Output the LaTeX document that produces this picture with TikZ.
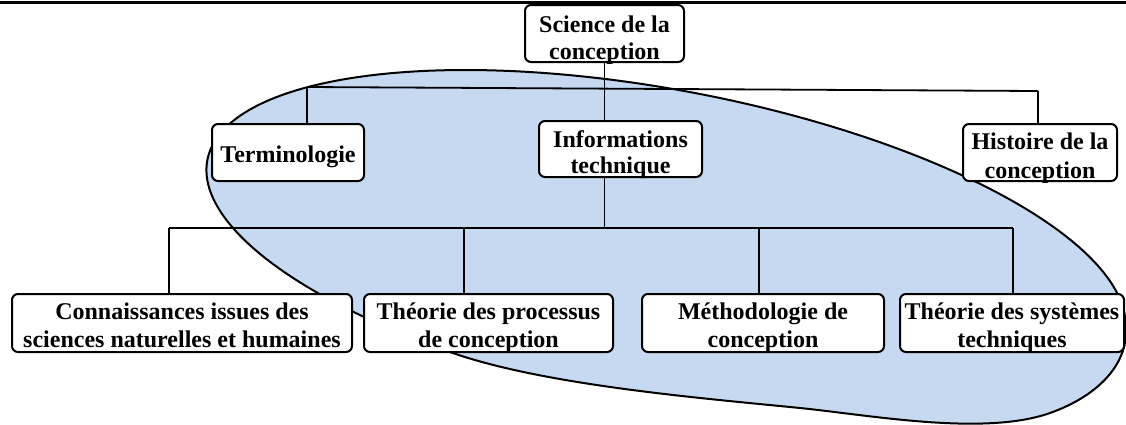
\documentclass[tikz,border=0pt]{standalone}
\usepackage{fontspec}
\setmainfont{Liberation Serif}
\definecolor{ellfill}{HTML}{C6D9F1}
\tikzset{
  boxst/.style={draw, line width=2pt, fill=white, rounded corners=6pt, inner sep=0pt},
  txt/.style={font=\bfseries\fontsize{24}{27}\selectfont, inner sep=0pt, anchor=base},
  link/.style={line width=1.8pt},
  ellst/.style={draw, fill=ellfill, line width=2pt},
}
\newcommand\mkbox[5]{% name, x1, y1, x2, y2
  \node[boxst, minimum width={#4-#2}, minimum height={#5-#3}] (#1) at ({(#2+#4)/2},{(#3+#5)/2}) {};}
\newcommand\cliptobox[1]{\clip[rounded corners=6pt] (#1.south west) rectangle (#1.north east);}
\begin{document}
\begin{tikzpicture}[x=1pt,y=-1pt]
\useasboundingbox (0,0) rectangle (1126,424);
% oval
\begin{scope}
  \clip (0,0) rectangle (1126,424);
  \draw[ellst] plot[domain=143.8:380, samples=200, variable=\t]
      ({666+413.5*cos(\t)+200.6*sin(\t)}, {247.5+177.5*sin(\t)})
    .. controls (1138,361) and (1097.1,396.3) .. (1050,413)
    .. controls (984,436.4) and (869.6,415) .. (800,408)
    .. controls (700.6,398) and (544.3,385.3) .. (450.8,352.3) -- cycle;
\end{scope}
% top rule
\draw[line width=3pt] (0,2.2) -- (1126,2.2);
% boxes
\mkbox{sci}{525}{5}{684}{62}
\mkbox{term}{212}{124}{364}{181}
\mkbox{info}{539}{121}{702}{177}
\mkbox{hist}{963}{124}{1117}{181}
\mkbox{conn}{12}{294}{352}{352}
\mkbox{proc}{364}{294}{613}{352}
\mkbox{meth}{642}{294}{884}{352}
\mkbox{sys}{900}{294}{1124}{352}
% bus coordinates
\coordinate (tl) at (307,87);
\coordinate (tr) at (1038,91);
\coordinate (bl) at (169,228);
\coordinate (bp) at (464,228);
\coordinate (bm) at (759,228);
\coordinate (br) at (1013,228);
% connectors
\draw[link] (sci.south) -- (sci.south |- info.north);
\draw[link] (tl) -- (tr);
\draw[link] (tl) -- (tl |- term.north);
\draw[link] (tr) -- (tr |- hist.north);
\draw[link] (sci.south |- info.south) -- (sci.south |- bl);
\draw[link] (bl) -- (br);
\draw[link] (bl) -- (bl |- conn.north);
\draw[link] (bp) -- (bp |- proc.north);
\draw[link] (bm) -- (bm |- meth.north);
\draw[link] (br) -- (br |- sys.north);
% texts
\begin{scope}\cliptobox{sci}
  \node[txt] (sci1) at (604.5,32) {Science de la};
  \node[txt] (sci2) at (604.5,59.5) {conception};
\end{scope}
\begin{scope}\cliptobox{term}
  \node[txt] (term1) at (288,162) {Terminologie};
\end{scope}
\begin{scope}\cliptobox{info}
  \node[txt] (info1) at (620.5,147) {Informations};
  \node[txt] (info2) at (620.5,173.5) {technique};
\end{scope}
\begin{scope}\cliptobox{hist}
  \node[txt] (hist1) at (1040,149.5) {Histoire de la};
  \node[txt] (hist2) at (1040,178.5) {conception};
\end{scope}
\begin{scope}\cliptobox{conn}
  \node[txt] (conn1) at (182,319.5) {Connaissances issues des};
  \node[txt] (conn2) at (182,347) {sciences naturelles et humaines};
\end{scope}
\begin{scope}\cliptobox{proc}
  \node[txt] (proc1) at (488.5,319.5) {Théorie des processus};
  \node[txt] (proc2) at (488.5,347) {de conception};
\end{scope}
\begin{scope}\cliptobox{meth}
  \node[txt] (meth1) at (763,319.5) {Méthodologie de};
  \node[txt] (meth2) at (763,347) {conception};
\end{scope}
\begin{scope}\cliptobox{sys}
  \node[txt] (sys1) at (1012,319.5) {Théorie des systèmes};
  \node[txt] (sys2) at (1012,347) {techniques};
\end{scope}
\end{tikzpicture}
\end{document}
